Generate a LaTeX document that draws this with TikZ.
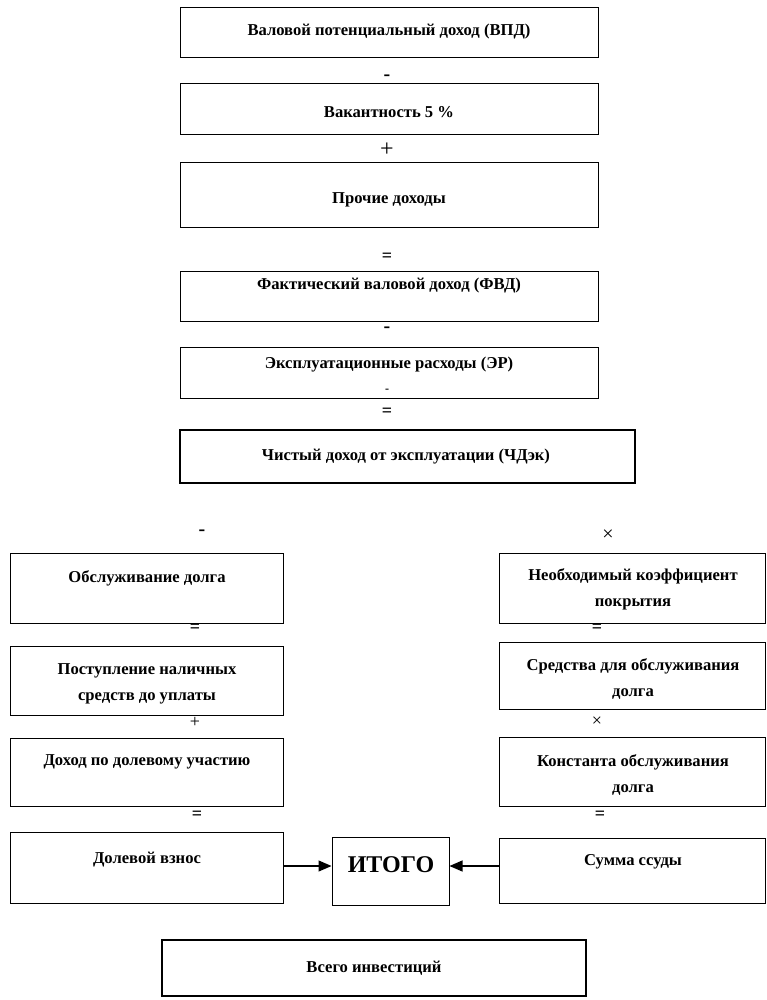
\documentclass[tikz,border=0pt]{standalone}
\usepackage{fontspec}
\setmainfont{Liberation Serif}
\usetikzlibrary{arrows.meta,fit}
\tikzset{
  box/.style={draw, line width=1pt, inner sep=0pt},
  thickbox/.style={draw, line width=2.6pt, inner sep=0pt},
  lbl/.style={font=\bfseries\fontsize{16.6}{26}\selectfont, align=center, inner sep=0pt, yshift=-2pt},
  op/.style={font=\bfseries\fontsize{18}{18}\selectfont, inner sep=0pt},
  minus/.style={font=\bfseries\fontsize{20}{20}\selectfont, inner sep=0pt},
  arr/.style={line width=1.1pt, -{Triangle[length=13pt,width=11pt]}}
}
\begin{document}
\begin{tikzpicture}[x=1pt,y=-1pt]
\useasboundingbox (0,0) rectangle (767,1000);
% top column
\node[box, fit={(180,8)(598,58)}] (b1) {};
\node[lbl] (t1) at (389,30) {Валовой потенциальный доход (ВПД)};
\node[minus] (o1) at (387,78) {-};
\node[box, fit={(180,84)(598,135)}] (b2) {};
\node[lbl] (t2) at (389,110) {Вакантность 5 \%};
\node[op, font=\fontsize{24}{24}\selectfont] (o2) at (387,150) {+};
\node[box, fit={(180,163)(598,228)}] (b3) {};
\node[lbl] (t3) at (389,198) {Прочие доходы};
\node[op] (o3) at (387,257) {=};
\node[box, fit={(180,271)(598,321)}] (b4) {};
\node[lbl] (t4) at (389,284) {Фактический валовой доход (ФВД)};
\node[minus] (o4) at (387,330) {-};
\node[box, fit={(180,347)(598,398)}] (b5) {};
\node[lbl] (t5) at (389,363) {Эксплуатационные расходы (ЭР)};
\node[minus, font=\bfseries\fontsize{12}{12}\selectfont] (o5) at (387,391) {-};
\node[op] (o6) at (387,412) {=};
\node[thickbox, fit={(180,430)(635,483)}] (b6) {};
\node[lbl] (t6) at (406,455) {Чистый доход от эксплуатации (ЧДэк)};
% left column
\node[minus] (lo1) at (202,533) {-};
\node[box, fit={(10,553)(283,623)}] (l1) {};
\node[lbl] (lt1) at (147,576) {Обслуживание долга};
\node[op] (lo2) at (195,628) {=};
\node[box, fit={(10,646)(283,715)}] (l2) {};
\node[lbl] (lt2) at (147,682) {Поступление наличных\\средств до уплаты};
\node[op, font=\fontsize{18}{18}\selectfont] (lo3) at (195,722) {+};
\node[box, fit={(10,738)(283,806)}] (l3) {};
\node[lbl] (lt3) at (147,760) {Доход по долевому участию};
\node[op] (lo4) at (197,815) {=};
\node[box, fit={(10,832)(283,903)}] (l4) {};
\node[lbl] (lt4) at (147,858) {Долевой взнос};
% right column
\node[op, font=\fontsize{20}{20}\selectfont] (ro1) at (608,535) {×};
\node[box, fit={(499,553)(765,623)}] (r1) {};
\node[lbl] (rt1) at (633,587) {Необходимый коэффициент\\покрытия};
\node[op] (ro2) at (597,628) {=};
\node[box, fit={(499,642)(765,709)}] (r2) {};
\node[lbl] (rt2) at (633,677) {Средства для обслуживания\\долга};
\node[op, font=\fontsize{18}{18}\selectfont] (ro3) at (597,722) {×};
\node[box, fit={(499,737)(765,806)}] (r3) {};
\node[lbl] (rt3) at (633,773) {Константа обслуживания\\долга};
\node[op] (ro4) at (600,815) {=};
\node[box, fit={(499,838)(765,903)}] (r4) {};
\node[lbl] (rt4) at (633,860) {Сумма ссуды};
% total
\node[box, fit={(332,837)(449,905)}] (itogo) {};
\node[inner sep=0pt, font=\bfseries\fontsize{24}{24}\selectfont] (itt) at (391,865) {ИТОГО};
\draw[arr] (l4.east |- 0,866) coordinate (a1) -- (itogo.west |- a1);
\draw[arr] (r4.west |- 0,866) coordinate (a2) -- (itogo.east |- a2);
\node[thickbox, fit={(162,940)(586,996)}] (all) {};
\node[lbl] (allt) at (374,966) {Всего инвестиций};
\end{tikzpicture}
\end{document}
